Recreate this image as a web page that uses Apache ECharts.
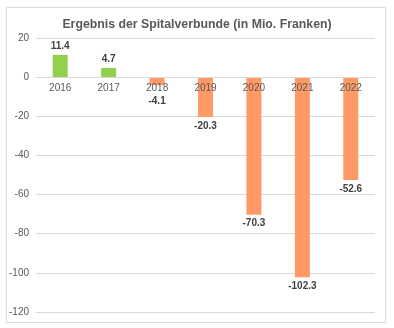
<!DOCTYPE html>
<html>
<head>
<meta charset="utf-8">
<script src="https://cdn.jsdelivr.net/npm/echarts@6/dist/echarts.min.js"></script>
<style>
  html, body { margin: 0; padding: 0; background: #fff; }
  #chart { width: 394px; height: 328px; }
</style>
</head>
<body>
<div id="chart"></div>
<script>
// Jahresergebnis der Spitalverbunde, in Mio. Franken
const years = ['2016', '2017', '2018', '2019', '2020', '2021', '2022'];
const results = [11.4, 4.7, -4.1, -20.3, -70.3, -102.3, -52.6];
const titleText = 'Ergebnis der Spitalverbunde (in Mio. Franken)';

const GREEN = '#92D050';
const ORANGE = '#FF9966';

const Y_MIN = -120, Y_MAX = 20;
const GRID = { left: 36, right: 19, top: 38, bottom: 16 };
const plotHeight = 328 - GRID.top - GRID.bottom;
// shift the category axis up from the plot bottom to the zero line
const zeroOffset = -plotHeight * (0 - Y_MIN) / (Y_MAX - Y_MIN);

const chart = echarts.init(document.getElementById('chart'));

// short negative bars push their value label below the year label
const barData = results.map(v => ({
  value: v,
  itemStyle: { color: v >= 0 ? GREEN : ORANGE },
  label: {
    position: v >= 0 ? 'top' : 'bottom',
    distance: (v < 0 && v > -10) ? 11 : 4
  }
}));

chart.setOption({
  animation: false,
  backgroundColor: '#fff',
  graphic: [{
    type: 'rect',
    shape: { x: 6.5, y: 7.5, width: 379, height: 315 },
    style: { fill: 'none', stroke: '#d9d9d9', lineWidth: 1 },
    silent: true
  }],
  title: {
    text: titleText,
    left: 'center',
    top: 14,
    textStyle: {
      fontFamily: 'Liberation Sans, Arial, sans-serif',
      fontSize: 12.3,
      fontWeight: 'bold',
      color: '#595959'
    }
  },
  grid: GRID,
  xAxis: {
    type: 'category',
    data: years,
    position: 'bottom',
    offset: zeroOffset,
    z: 5,
    axisLine: { onZero: false, lineStyle: { color: '#d9d9d9' } },
    axisTick: { show: false },
    axisLabel: {
      color: '#595959',
      fontFamily: 'Liberation Sans, Arial, sans-serif',
      fontSize: 10,
      margin: 6
    }
  },
  yAxis: {
    type: 'value',
    min: Y_MIN,
    max: Y_MAX,
    interval: 20,
    axisLine: { show: false },
    axisTick: { show: false },
    splitLine: { lineStyle: { color: '#d9d9d9' } },
    axisLabel: {
      color: '#595959',
      fontFamily: 'Liberation Sans, Arial, sans-serif',
      fontSize: 10,
      margin: 7
    }
  },
  series: [{
    type: 'bar',
    data: barData,
    barWidth: 15,
    label: {
      show: true,
      color: '#404040',
      fontFamily: 'Liberation Sans, Arial, sans-serif',
      fontSize: 10,
      fontWeight: 'bold',
      formatter: p => p.value.toFixed(1)
    }
  }]
});
</script>
</body>
</html>
